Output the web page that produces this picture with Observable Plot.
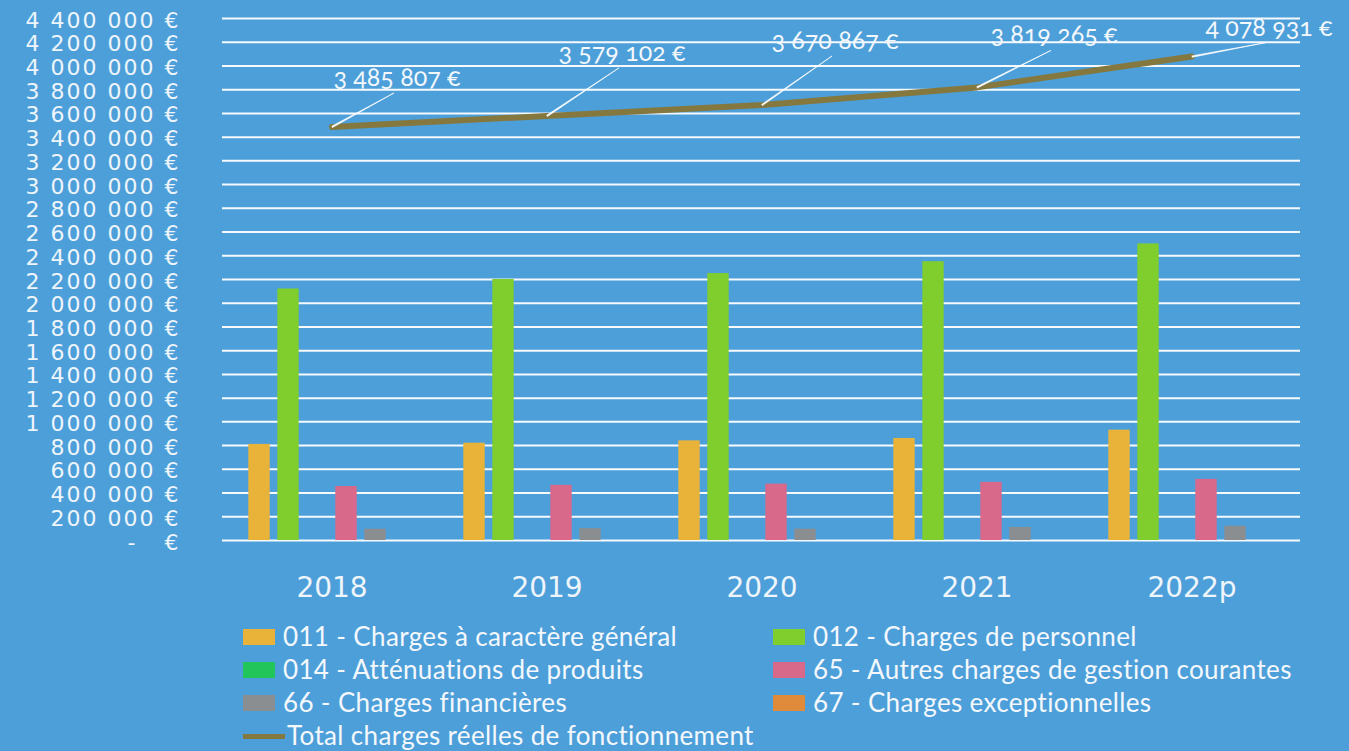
<!DOCTYPE html>
<html>
<head>
<meta charset="utf-8">
<script src="https://cdn.jsdelivr.net/npm/d3@7"></script>
<script src="https://cdn.jsdelivr.net/npm/@observablehq/plot@0.6"></script>
<style>
  html, body { margin: 0; padding: 0; background: #4d9fd9; width: 1349px; height: 751px; overflow: hidden; }
  #wrap { position: relative; width: 1349px; height: 751px; }
  #chart { position: absolute; left: 0; top: 0; }
  #legend { position: absolute; left: 0; top: 620px; width: 1349px; font-family: Lato, sans-serif; font-size: 26px; letter-spacing: 0.35px; color: #f4f8fc; }
  .item { position: absolute; height: 33px; line-height: 33px; white-space: nowrap; }
  .sw { position: absolute; top: 9px; width: 32px; height: 16px; }
  .swl { position: absolute; top: 15px; width: 42px; height: 5px; }
  .item span.t { position: absolute; }
</style>
</head>
<body>
<div id="wrap">
  <div id="chart"></div>
  <div id="legend"></div>
</div>
<script>
// ---- data ----
const years = ["2018", "2019", "2020", "2021", "2022p"];
const seriesNames = [
  "011 - Charges à caractère général",
  "012 - Charges de personnel",
  "014 - Atténuations de produits",
  "65 - Autres charges de gestion courantes",
  "66 - Charges financières",
  "67 - Charges exceptionnelles"
];
const c011 = [810000, 820000, 840000, 860000, 930000];
const c012 = [2120000, 2200000, 2250000, 2350000, 2500000];
const c014 = [0, 0, 0, 0, 0];
const c65  = [455000, 465000, 475000, 490000, 515000];
const c66  = [95000, 100000, 95000, 110000, 120000];
const c67  = [0, 0, 0, 0, 0];
const totals = [3485807, 3579102, 3670867, 3819265, 4078931];
const totalName = "Total charges réelles de fonctionnement";
const yTicks = [0, 200000, 400000, 600000, 800000, 1000000, 1200000, 1400000, 1600000, 1800000,
  2000000, 2200000, 2400000, 2600000, 2800000, 3000000, 3200000, 3400000, 3600000, 3800000,
  4000000, 4200000, 4400000];

// ---- styles ----
const colors = ["#e9b33a", "#7fce2e", "#22c55a", "#d8698a", "#8b8e91", "#e08b3c"];
const lineColor = "#85783f";
const seriesValues = [c011, c012, c014, c65, c66, c67];
// label placement (pixel offsets of each total label from its point)
const labelOffsets = [[65, -49], [75, -63], [73, -64], [77, -52], [77, -29]];

const W = 1349, H = 600, mL = 222, mR = 49, mT = 18, mB = 60;
const bandW = (W - mL - mR) / years.length;
const barW = 22, pitch = 29;

const loc = d3.formatLocale({decimal: ",", thousands: "\u00a0", grouping: [3], currency: ["", "\u00a0€"]});
const fmt = loc.format("$,.0f");
const tickFmt = d => d === 0 ? "-\u00a0\u00a0\u00a0€" : fmt(d);

const totalData = years.map((y, i) => ({year: y, total: totals[i]}));

const marks = [
  Plot.ruleY(yTicks, {stroke: "#ffffff", strokeWidth: 2, strokeOpacity: 0.95}),
  Plot.axisY({ticks: yTicks, tickSize: 0, tickPadding: 42, tickFormat: tickFmt, fontSize: 22, fill: "#eef5fb", fontFamily: "DejaVu Sans", dy: 2, label: null}),
  Plot.axisX({tickSize: 0, tickPadding: 37, fontSize: 28, fill: "#eef5fb", fontFamily: "DejaVu Sans", label: null})
];

seriesValues.forEach((vals, k) => {
  const data = years.map((y, i) => ({year: y, value: vals[i], series: seriesNames[k]}));
  marks.push(Plot.barY(data, {
    x: "year", y: "value", fill: colors[k],
    insetLeft: (bandW - barW) / 2, insetRight: (bandW - barW) / 2,
    dx: (k - 2.5) * pitch
  }));
});

marks.push(Plot.line(totalData, {x: "year", y: "total", stroke: lineColor, strokeWidth: 6, strokeLinecap: "round"}));

totalData.forEach((d, i) => {
  const [ox, oy] = labelOffsets[i];
  const ex = ox - 3, ey = oy + 15;
  const len = Math.hypot(ex, ey);
  const rot = Math.atan2(ex, -ey) * 180 / Math.PI;
  marks.push(Plot.vector([d], {x: "year", y: "total", length: len, rotate: rot, anchor: "start",
    shape: "spike", r: 0.7, fill: "#ffffff", stroke: "#ffffff", strokeWidth: 0.6}));
  marks.push(Plot.text([d], {x: "year", y: "total", text: dd => fmt(dd.total), dx: ox, dy: oy,
    fill: "#f4f8fc", fontSize: 25, fontFamily: "Lato", fontVariant: "oldstyle-nums"}));
});

const chart = Plot.plot({
  width: W, height: H,
  marginLeft: mL, marginRight: mR, marginTop: mT, marginBottom: mB,
  style: {background: "transparent", color: "#eef5fb", overflow: "visible"},
  x: {domain: years, padding: 0, axis: null},
  y: {domain: [0, 4400000], axis: null},
  marks
});
document.getElementById("chart").appendChild(chart);
// y tick labels: letter spacing to match the reference width
chart.querySelectorAll('[aria-label="y-axis tick label"] text').forEach(t => t.setAttribute("letter-spacing", "2"));

// ---- legend ----
const legend = document.getElementById("legend");
const legendItems = [
  {name: seriesNames[0], color: colors[0], col: 0, row: 0},
  {name: seriesNames[1], color: colors[1], col: 1, row: 0},
  {name: seriesNames[2], color: colors[2], col: 0, row: 1},
  {name: seriesNames[3], color: colors[3], col: 1, row: 1},
  {name: seriesNames[4], color: colors[4], col: 0, row: 2},
  {name: seriesNames[5], color: colors[5], col: 1, row: 2},
  {name: totalName, color: lineColor, col: 0, row: 3, line: true}
];
const colX = [243, 773];
legendItems.forEach(it => {
  const div = document.createElement("div");
  div.className = "item";
  div.style.left = colX[it.col] + "px";
  div.style.top = (it.row * 33) + "px";
  const sw = document.createElement("div");
  sw.className = it.line ? "swl" : "sw";
  sw.style.left = "0px";
  sw.style.background = it.color;
  const t = document.createElement("span");
  t.className = "t";
  t.style.left = (it.line ? 44 : 40) + "px";
  t.textContent = it.name;
  div.appendChild(sw);
  div.appendChild(t);
  legend.appendChild(div);
});
</script>
</body>
</html>
